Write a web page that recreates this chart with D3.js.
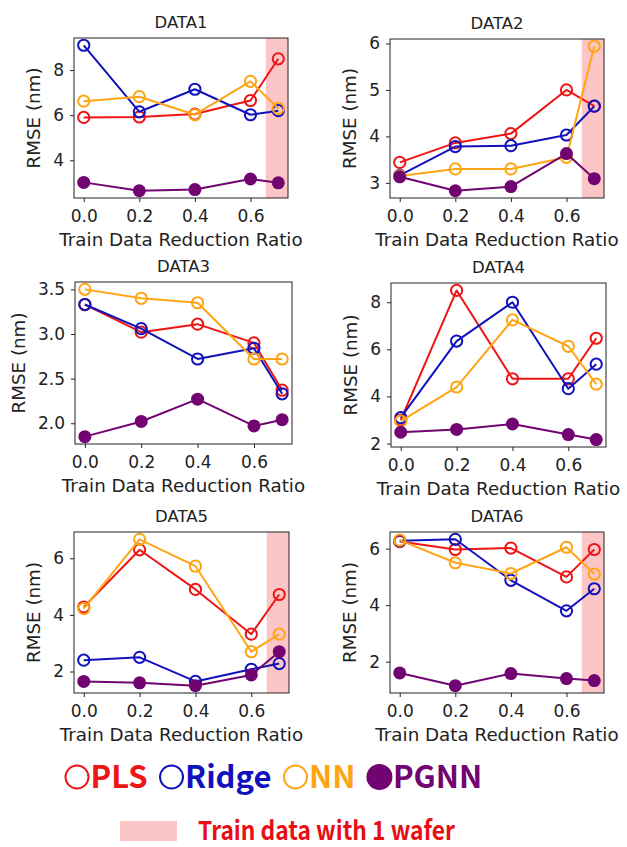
<!DOCTYPE html>
<html>
<head>
<meta charset="utf-8">
<script src="https://cdn.jsdelivr.net/npm/d3@7"></script>
<style>
  body { margin: 0; background: #fff; }
  svg text { font-family: "DejaVu Sans", sans-serif; }
</style>
</head>
<body>
<div id="chartCont"></div>
<script>
// x positions (train data reduction ratio)
var ratios = [0.0, 0.2, 0.4, 0.6, 0.7];
var xTicks = [0.0, 0.2, 0.4, 0.6];

var panelTitles = ['DATA1', 'DATA2', 'DATA3', 'DATA4', 'DATA5', 'DATA6'];
var methodNames = ['PLS', 'Ridge', 'NN', 'PGNN'];

// RMSE (nm), one row per panel
var plsValues = [
    [5.90, 5.92, 6.05, 6.65, 8.50],
    [3.44, 3.86, 4.06, 5.00, 4.65],
    [3.33, 3.02, 3.11, 2.90, 2.37],
    [3.00, 8.50, 4.75, 4.75, 6.47],
    [4.28, 6.30, 4.90, 3.32, 4.72],
    [6.25, 5.97, 6.02, 5.00, 5.97]
];
var ridgeValues = [
    [9.10, 6.15, 7.15, 6.02, 6.20],
    [3.16, 3.78, 3.80, 4.03, 4.65],
    [3.33, 3.06, 2.72, 2.84, 2.33],
    [3.10, 6.35, 8.00, 4.33, 5.37],
    [2.40, 2.50, 1.65, 2.08, 2.28],
    [6.28, 6.33, 4.88, 3.80, 4.58]
];
var nnValues = [
    [6.62, 6.82, 6.02, 7.50, 6.30],
    [3.15, 3.30, 3.30, 3.55, 5.94],
    [3.50, 3.40, 3.35, 2.72, 2.72],
    [2.95, 4.40, 7.25, 6.13, 4.52],
    [4.22, 6.67, 5.72, 2.70, 3.32],
    [6.30, 5.50, 5.12, 6.05, 5.10]
];
var pgnnValues = [
    [3.02, 2.65, 2.70, 3.17, 3.00],
    [3.13, 2.83, 2.92, 3.63, 3.09],
    [1.85, 2.02, 2.27, 1.97, 2.04],
    [2.48, 2.60, 2.83, 2.38, 2.17],
    [1.65, 1.60, 1.50, 1.88, 2.70],
    [1.60, 1.15, 1.58, 1.40, 1.33]
];

var yTicks = [
    [4, 6, 8],
    [3, 4, 5, 6],
    [2.0, 2.5, 3.0, 3.5],
    [2, 4, 6, 8],
    [2, 4, 6],
    [2, 4, 6]
];

// panels that have the "1 wafer" shaded band
var shadedPanels = [true, true, false, false, true, true];
var shadeStart = 0.655;

var noteText = 'Train data with 1 wafer';

var colors = {PLS: '#ee1515', Ridge: '#1212bd', NN: '#ffa514', PGNN: '#720472'};
var shadeColor = '#fcc6c6';

// plot area of each panel: [left, top, right, bottom]
var boxes = [
    [74, 38, 288, 198],
    [390, 39, 604, 198],
    [75, 282, 292, 444],
    [391, 283, 606, 447],
    [74, 532, 289, 693],
    [390, 532, 604, 693]
];

var svg = d3.select('#chartCont').append('svg')
    .attr('width', 627)
    .attr('height', 847);

function seriesFor(i) {
    return [
        {name: 'PLS', values: plsValues[i], filled: false},
        {name: 'Ridge', values: ridgeValues[i], filled: false},
        {name: 'NN', values: nnValues[i], filled: false},
        {name: 'PGNN', values: pgnnValues[i], filled: true}
    ];
}

function drawPanel(i) {
    var b = boxes[i];
    var width = b[2] - b[0];
    var height = b[3] - b[1];
    var series = seriesFor(i);

    // matplotlib-like 5% margins
    var all = [].concat(plsValues[i], ridgeValues[i], nnValues[i], pgnnValues[i]);
    var lo = d3.min(all), hi = d3.max(all);
    var pad = (hi - lo) * 0.05;

    var x = d3.scaleLinear().domain([-0.035, 0.735]).range([0, width]);
    var y = d3.scaleLinear().domain([lo - pad, hi + pad]).range([height, 0]);

    var g = svg.append('g')
        .attr('transform', 'translate(' + b[0] + ',' + b[1] + ')');

    if (shadedPanels[i]) {
        g.append('rect')
            .attr('x', x(shadeStart))
            .attr('y', 0)
            .attr('width', width - x(shadeStart))
            .attr('height', height)
            .attr('fill', shadeColor);
    }

    var decimals = yTicks[i].some(function (t) { return t % 1 !== 0; });

    var xAxis = g.append('g')
        .attr('transform', 'translate(0,' + height + ')')
        .call(d3.axisBottom(x).tickValues(xTicks).tickFormat(d3.format('.1f')).tickSize(4).tickPadding(8));
    var yAxis = g.append('g')
        .call(d3.axisLeft(y).tickValues(yTicks[i]).tickFormat(d3.format(decimals ? '.1f' : 'd')).tickSize(4).tickPadding(6));

    [xAxis, yAxis].forEach(function (ax) {
        ax.select('.domain').remove();
        ax.selectAll('line').attr('stroke', '#222');
        ax.selectAll('text')
            .attr('fill', '#222')
            .style('font-size', '17px')
            .style('font-family', '"DejaVu Sans", sans-serif');
    });

    // widest y tick label decides where the y label goes
    var maxTickW = 0;
    yAxis.selectAll('text').each(function () {
        maxTickW = Math.max(maxTickW, this.getComputedTextLength());
    });

    var line = d3.line()
        .x(function (d, k) { return x(ratios[k]); })
        .y(function (d) { return y(d); });

    series.forEach(function (s) {
        g.append('path')
            .datum(s.values)
            .attr('fill', 'none')
            .attr('stroke', colors[s.name])
            .attr('stroke-width', 2)
            .attr('stroke-linejoin', 'round')
            .attr('d', line);
        g.append('g').selectAll('circle')
            .data(s.values)
            .enter()
            .append('circle')
            .attr('cx', function (d, k) { return x(ratios[k]); })
            .attr('cy', function (d) { return y(d); })
            .attr('r', s.filled ? 6.5 : 5.6)
            .attr('fill', s.filled ? colors[s.name] : 'none')
            .attr('stroke', colors[s.name])
            .attr('stroke-width', s.filled ? 0 : 2);
    });

    // frame drawn on top like matplotlib spines
    g.append('rect')
        .attr('width', width)
        .attr('height', height)
        .attr('fill', 'none')
        .attr('stroke', '#222')
        .attr('stroke-width', 1);

    g.append('text')
        .attr('x', width / 2)
        .attr('y', -10)
        .attr('text-anchor', 'middle')
        .attr('fill', '#222')
        .style('font-size', '16.5px')
        .text(panelTitles[i]);

    g.append('text')
        .attr('x', width / 2)
        .attr('y', height + 48)
        .attr('text-anchor', 'middle')
        .attr('fill', '#222')
        .style('font-size', '18.3px')
        .text('Train Data Reduction Ratio');

    g.append('text')
        .attr('transform', 'translate(' + (-(maxTickW + 23)) + ',' + (height / 2) + ') rotate(-90)')
        .attr('text-anchor', 'middle')
        .attr('fill', '#222')
        .style('font-size', '18.3px')
        .text('RMSE (nm)');
}

function drawLegend() {
    var lg = svg.append('g').attr('id', 'legend');
    var cx = 77;
    var cy = 777;
    methodNames.forEach(function (name) {
        var filled = name === 'PGNN';
        lg.append('circle')
            .attr('cx', cx)
            .attr('cy', cy)
            .attr('r', filled ? 13 : 11.5)
            .attr('fill', filled ? colors[name] : 'none')
            .attr('stroke', colors[name])
            .attr('stroke-width', filled ? 0 : 2);
        var t = lg.append('text')
            .attr('x', cx + 13.5)
            .attr('y', cy + 11)
            .attr('fill', colors[name])
            .style('font-family', '"Noto Sans CJK KR", "Noto Sans", sans-serif')
            .style('font-weight', 'bold')
            .style('font-size', '31px')
            .text(name);
        var w = t.node().getComputedTextLength();
        cx = cx + 13.5 + w + 24;
    });

    lg.append('rect')
        .attr('x', 120)
        .attr('y', 821)
        .attr('width', 57)
        .attr('height', 20)
        .attr('fill', shadeColor);
    lg.append('text')
        .attr('x', 198)
        .attr('y', 840)
        .attr('fill', '#e80e14')
        .attr('textLength', 257)
        .attr('lengthAdjust', 'spacingAndGlyphs')
        .style('font-family', '"Noto Sans CJK KR", "Noto Sans", sans-serif')
        .style('font-weight', 'bold')
        .style('font-size', '26px')
        .text(noteText);
}

for (var i = 0; i < panelTitles.length; i++) {
    drawPanel(i);
}
drawLegend();
</script>
</body>
</html>
